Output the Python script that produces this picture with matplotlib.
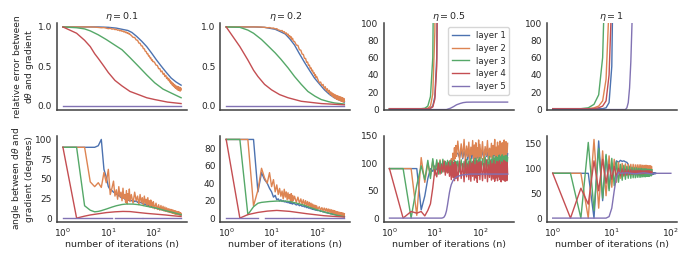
import numpy as np
import matplotlib
matplotlib.use("Agg")
import matplotlib.pyplot as plt

# iteration grid for the noisy curves: 1..30, 32..98 step 3, 104..400 step 8
n_grid = np.r_[1:31, 32:101:3, 104:401:8]
n_short = np.arange(1, 49)
n_blue_h = np.arange(1, 57)

etas = ["$\\eta = 0.1$", "$\\eta = 0.2$", "$\\eta = 0.5$", "$\\eta = 1$"]
layers = ["layer 1", "layer 2", "layer 3", "layer 4", "layer 5"]
colors = ["#4C72B0", "#DD8452", "#55A868", "#C44E52", "#8172B3"]

# ---- relative error, eta = 0.1
rel01_blue_n = [1, 3, 6, 10, 15, 20, 27, 33, 42, 54, 70, 89, 115, 147, 190, 242, 310, 400]
rel01_blue = [1.0, 1.0, 1.0, 0.995, 0.985, 0.97, 0.955, 0.93, 0.88, 0.82, 0.75, 0.67, 0.58, 0.50, 0.42, 0.35, 0.30, 0.26]
rel01_orange = [1.0, 1.0, 1.0, 1.0, 0.998, 0.994, 0.99, 0.992, 0.985, 0.978,
                0.983, 0.972, 0.976, 0.966, 0.97, 0.958, 0.962, 0.95, 0.957, 0.944,
                0.949, 0.936, 0.942, 0.928, 0.934, 0.92, 0.926, 0.912, 0.917, 0.905,
                0.892, 0.868, 0.866, 0.835, 0.83, 0.795, 0.792, 0.76, 0.758, 0.725,
                0.722, 0.69, 0.688, 0.66, 0.66, 0.63, 0.632, 0.605, 0.608, 0.58,
                0.585, 0.56, 0.562,
                0.55, 0.515, 0.51, 0.47, 0.47, 0.43, 0.44, 0.40, 0.41, 0.37,
                0.385, 0.345, 0.36, 0.325, 0.34, 0.30, 0.32, 0.28, 0.30, 0.26,
                0.285, 0.245, 0.27, 0.23, 0.26, 0.22, 0.25, 0.21, 0.245, 0.20,
                0.24, 0.195, 0.235, 0.19, 0.23, 0.185, 0.225, 0.2]
rel01_green_n = [1, 2, 3, 4, 6, 9, 13, 20, 30, 46, 70, 105, 160, 242, 400]
rel01_green = [1.0, 0.99, 0.975, 0.95, 0.9, 0.84, 0.78, 0.71, 0.61, 0.50, 0.39, 0.29, 0.21, 0.16, 0.10]
rel01_red_n = [1, 2, 3, 4, 5, 6, 8, 10, 14, 20, 30, 46, 70, 105, 200, 400]
rel01_red = [1.0, 0.92, 0.83, 0.75, 0.66, 0.60, 0.50, 0.42, 0.32, 0.25, 0.18, 0.14, 0.10, 0.077, 0.045, 0.026]
rel01_purple_n = [1, 400]
rel01_purple = [0.0, 0.0]

# ---- relative error, eta = 0.2
rel02_blue_n = [1, 4, 7, 12, 15, 20, 25, 32, 40, 53, 68, 88, 115, 146, 190, 241, 310, 400]
rel02_blue = [1.0, 1.0, 0.995, 0.97, 0.945, 0.91, 0.85, 0.77, 0.67, 0.55, 0.45, 0.35, 0.27, 0.20, 0.14, 0.10, 0.07, 0.045]
rel02_orange = [1.0, 1.0, 1.0, 1.0, 1.0, 0.998, 0.995, 0.99, 0.992, 0.984,
                0.986, 0.975, 0.978, 0.962, 0.958, 0.95, 0.955, 0.935, 0.94, 0.915,
                0.925, 0.9, 0.91, 0.88, 0.89, 0.86, 0.875, 0.84, 0.855, 0.82,
                0.815, 0.77, 0.765, 0.71, 0.705, 0.655, 0.65, 0.6, 0.6, 0.55,
                0.555, 0.51, 0.515, 0.47, 0.48, 0.44, 0.45, 0.41, 0.42, 0.38,
                0.395, 0.355, 0.37,
                0.335, 0.29, 0.3, 0.255, 0.27, 0.22, 0.24, 0.19, 0.215, 0.17,
                0.195, 0.145, 0.175, 0.13, 0.16, 0.115, 0.15, 0.1, 0.14, 0.09,
                0.13, 0.08, 0.125, 0.075, 0.12, 0.07, 0.115, 0.065, 0.11, 0.06,
                0.105, 0.055, 0.1, 0.05, 0.095, 0.045, 0.09, 0.06]
rel02_green_n = [1, 2, 3, 4, 6, 8, 12, 16, 23, 32, 45, 63, 90, 124, 180, 241, 400]
rel02_green = [1.0, 0.995, 0.96, 0.92, 0.84, 0.77, 0.67, 0.59, 0.48, 0.37, 0.27, 0.18, 0.12, 0.077, 0.05, 0.034, 0.02]
rel02_red_n = [1, 2, 3, 4, 5, 7, 10, 15, 23, 45, 124, 400]
rel02_red = [1.0, 0.75, 0.58, 0.45, 0.37, 0.27, 0.2, 0.14, 0.10, 0.055, 0.026, 0.01]
rel02_purple_n = [1, 400]
rel02_purple = [0.0, 0.0]

# ---- relative error, eta = 0.5 (blows up)
rel05_blue_n = [1, 7, 8, 9, 10, 11, 12]
rel05_blue = [1, 1, 1.5, 4, 15, 60, 300]
rel05_orange_n = [1, 6, 7, 8, 9, 10, 11]
rel05_orange = [1, 1, 1.5, 4, 18, 90, 500]
rel05_green_n = [1, 5, 6, 7, 8, 9, 10]
rel05_green = [1, 1, 1.5, 4, 15, 60, 300]
rel05_red_n = [1, 7, 8, 9, 10, 11, 12]
rel05_red = [1, 1, 1.5, 3, 12, 50, 250]
rel05_purple_n = [1, 18, 22, 26, 30, 36, 42, 50, 70, 400]
rel05_purple = [0, 0, 1.5, 3.5, 5.5, 7, 8, 8.5, 8.6, 8.6]

# ---- relative error, eta = 1
rel1_blue_n = [1, 7, 8, 9, 10, 11]
rel1_blue = [1, 1, 2, 8, 50, 250]
rel1_orange_n = [1, 4, 5, 6, 7, 8, 9]
rel1_orange = [1, 1, 2, 4, 10, 35, 120]
rel1_green_n = [1, 3, 4, 5, 6, 7, 8]
rel1_green = [1, 1, 2, 6, 17, 60, 200]
rel1_red_n = [1, 5, 6, 7, 8, 9, 10]
rel1_red = [1, 1, 2, 4, 10, 40, 130]
rel1_purple_n = [1, 17, 18, 19, 20, 21, 22, 23]
rel1_purple = [0, 0, 2, 8, 25, 55, 100, 170]

# ---- angle, eta = 0.1
ang01_blue = [90, 90, 90, 90, 90, 92, 100, 62, 52, 40,
              36, 35, 33, 32, 30, 31, 28, 29, 26, 27,
              25, 26, 24, 25.5, 23, 24.5, 22.5, 24, 22, 23.5,
              22, 23, 21, 22, 20, 21, 19.5, 20, 18.5, 19,
              17.5, 18, 16.5, 17.5, 16, 16.5, 15.5, 16, 14.5, 15.5,
              14, 15, 13.5,
              13.5, 12.5, 13, 11.5, 12, 10.8, 11.2, 10, 10.5, 9.4,
              9.9, 8.8, 9.3, 8.3, 8.8, 7.9, 8.4, 7.5, 8, 7,
              7.6, 6.6, 7.2, 6.2, 6.8, 5.8, 6.4, 5.5, 6, 5.1,
              5.7, 4.8, 5.3, 4.5, 5, 4.2, 4.7, 4]
ang01_orange = [90, 90, 90, 46, 40, 45, 39, 58, 45, 62,
                30, 38, 47, 28, 36, 24, 40, 27, 33, 22,
                38, 25, 30, 20, 35, 18, 31, 23, 37, 21,
                30, 19, 33, 22, 28, 17, 30, 20, 26, 16,
                28, 19, 24, 15, 26, 17, 22, 14, 23, 16,
                20, 13, 21,
                12, 19, 11, 17, 10, 16, 10, 15, 9, 14,
                8.5, 13, 8, 12, 7.5, 11.5, 7, 11, 6.5, 10.5,
                6, 10, 5.5, 9.5, 5, 9, 5, 8.5, 4.5, 8,
                4.5, 8, 4, 7.5, 4, 7, 3.5, 6]
ang01_green_n = [1, 2, 3, 4, 5, 6, 7, 9, 12, 15, 20, 25, 35, 48, 70, 112, 180, 262, 400]
ang01_green = [90, 90, 15.7, 10, 8, 8.5, 9.5, 11.5, 14, 15.7, 17.3, 17.9, 17.8, 17, 15, 12.8, 9.5, 7.2, 4.3]
ang01_red_n = [1, 2, 3, 4, 6, 9, 14, 21, 30, 48, 70, 112, 180, 262, 400]
ang01_red = [90, 0, 2.5, 4, 5.5, 7, 8, 8.5, 8.3, 7, 6, 5, 4, 3, 2]
ang01_purple_n = [1, 12, 13, 14, 55, 57, 59, 400]
ang01_purple = [0, 0, np.nan, 0, 0, np.nan, 0, 0]

# ---- angle, eta = 0.2
ang02_blue = [90, 90, 90, 90, 30, 52, 44, 40, 34, 30,
              24, 26, 21, 22, 19.5, 21, 19, 20, 18.5, 19.5,
              18, 19, 17.5, 18.5, 17, 18, 16.5, 17.5, 16, 17,
              16.5, 15, 15.8, 14.2, 15, 13.5, 14, 12.8, 13.3, 12,
              12.6, 11.4, 12, 10.8, 11.4, 10.3, 10.9, 9.8, 10.4, 9.4,
              10, 9, 9.5,
              8.6, 8.8, 7.6, 8, 7, 7.3, 6.3, 6.7, 5.8, 6.2,
              5.4, 5.7, 4.9, 5.3, 4.5, 4.9, 4.2, 4.6, 3.9, 4.3,
              3.6, 4, 3.3, 3.7, 3.1, 3.5, 2.9, 3.2, 2.7, 3,
              2.5, 2.8, 2.3, 2.6, 2.1, 2.4, 2, 2.2]
ang02_orange = [90, 90, 90, 14, 32, 57, 46, 40, 52, 36,
                44, 30, 38, 27, 34, 25, 31, 22, 33, 24,
                30, 21, 29, 22, 27, 20, 28, 19, 26, 20,
                25, 18, 24, 17, 22, 16, 21, 15, 20, 14,
                19, 13.5, 18, 13, 17, 12, 16, 11.5, 15, 11,
                14.5, 10.5, 14,
                10, 13, 9, 12, 8.5, 11.5, 8, 11, 7.5, 10.5,
                7, 10, 6.5, 9.5, 6, 9, 5.5, 8.5, 5, 8,
                4.5, 7.5, 4.3, 7, 4, 6.8, 3.8, 6.5, 3.5, 6.2,
                3.3, 6, 3, 5.7, 2.8, 5.5, 2.6, 5]
ang02_green_n = [1, 2, 3, 4, 5, 6, 9, 13, 18, 25, 36, 50, 72, 100, 144, 200, 287, 400]
ang02_green = [90, 90, 4, 13, 17, 18, 19, 19.5, 19.6, 19, 17, 15, 12, 9.5, 7, 5, 3, 1.5]
ang02_red_n = [1, 2, 3, 5, 8, 13, 25, 60, 144, 400]
ang02_red = [90, 0, 4, 6.5, 8, 8.8, 7.7, 5, 2.7, 1.2]
ang02_purple_n = [1, 5, 6, 7, 29, 30, 31, 400]
ang02_purple = [0, 0, np.nan, 0, 0, np.nan, 0, 0]

# ---- angle, eta = 0.5
ang05_blue = [90, 90, 90, 90, 15, 40, 72, 90, 85, 95,
              88, 96, 90, 98, 92, 99, 94, 100, 96, 102,
              100, 105, 104, 108, 109, 112, 113, 115, 116, 117,
              118, 110, 124, 108, 121, 112, 126, 106, 120, 114,
              125, 108, 119, 113, 127, 107, 122, 111, 124, 109,
              118, 115, 126,
              110, 123, 108, 125, 112, 120, 107, 126, 113, 119,
              109, 124, 114, 121, 106, 125, 111, 122, 108, 127,
              113, 118, 110, 124, 107, 121, 115, 126, 109, 120,
              112, 125, 108, 122, 114, 119, 110, 117]
ang05_orange = [90, 90, 90, 5, 110, 65, 100, 78, 104, 80,
                102, 85, 106, 82, 100, 88, 103, 84, 98, 90,
                104, 92, 108, 95, 118, 105, 128, 108, 132, 112,
                140, 106, 135, 110, 143, 104, 131, 112, 138, 102,
                129, 115, 141, 105, 133, 110, 137, 100, 128, 113,
                142, 107, 134,
                108, 139, 103, 130, 114, 141, 106, 127, 111, 136,
                101, 132, 116, 143, 105, 129, 112, 138, 104, 131,
                117, 140, 108, 126, 113, 137, 102, 133, 118, 142,
                107, 128, 115, 139, 104, 134, 120, 136]
ang05_green = [90, 90, 0, 60, 95, 70, 105, 72, 108, 78,
               106, 80, 104, 82, 107, 84, 103, 86, 105, 83,
               102, 85, 104, 82, 101, 86, 105, 83, 103, 87,
               104, 84, 106, 86, 103, 82, 107, 87, 104, 85,
               108, 83, 103, 88, 106, 84, 109, 86, 104, 89,
               107, 85, 110,
               88, 108, 86, 111, 90, 106, 87, 112, 89, 107,
               91, 113, 88, 109, 92, 112, 87, 110, 93, 114,
               89, 108, 94, 112, 90, 115, 92, 109, 95, 113,
               91, 111, 96, 114, 92, 112, 97, 110]
ang05_red = [90, 0, 12, 9, 12, 4, 14, 26, 55, 88,
             75, 100, 80, 98, 84, 104, 78, 96, 82, 101,
             76, 95, 70, 103, 74, 98, 68, 102, 72, 97,
             68, 104, 72, 99, 66, 106, 75, 98, 70, 103,
             67, 100, 76, 105, 69, 97, 73, 104, 65, 99,
             78, 102, 70,
             103, 68, 100, 72, 106, 66, 97, 74, 104, 69,
             99, 71, 105, 67, 98, 73, 103, 68, 100, 75,
             104, 70, 97, 66, 102, 72, 99, 69, 105, 74,
             98, 67, 103, 71, 100, 68, 101, 80]
ang05_purple_n = [1, 14, 15, 16, 17, 18, 19, 20, 21, 22, 23, 25, 28, 32, 40, 60, 400]
ang05_purple = [0, 0, 0.5, 2, 6, 13, 24, 36, 47, 55, 61, 68, 73, 76, 78.5, 80, 80]

# ---- angle, eta = 1
ang1_blue = [90, 90, 90, 90, 0, 155, 35, 125, 60, 110,
             100, 115, 112, 116, 114, 115, 113, 112, 108, 100,
             95, 98, 91, 96, 90, 95, 90, 94, 89, 94,
             89, 94, 89, 93, 88, 93, 88, 93, 88, 92,
             88, 92, 88, 92, 87, 92, 88, 91, 88, 91,
             88, 91, 89, 91, 89, 90]
ang1_orange = [90, 90, 90, 0, 158, 20, 135, 45, 125, 62,
               118, 72, 112, 80, 110, 84, 109, 86, 108, 87,
               108, 88, 108, 88, 107, 89, 107, 89, 107, 89,
               107, 90, 106, 90, 106, 90, 106, 90, 106, 91,
               105, 91, 105, 91, 105, 91, 104, 92]
ang1_green = [90, 90, 0, 152, 15, 140, 40, 128, 55, 120,
              65, 113, 72, 108, 76, 106, 78, 104, 80, 103,
              80, 102, 81, 101, 81, 101, 82, 100, 82, 100,
              82, 100, 83, 99, 83, 99, 83, 99, 84, 98,
              84, 98, 84, 98, 85, 97, 85, 97]
ang1_red = [90, 0, 60, 28, 115, 55, 118, 70, 108, 78,
            104, 82, 100, 85, 99, 86, 98, 87, 97, 88,
            97, 88, 96, 89, 96, 89, 96, 89, 96, 89,
            96, 89, 95, 89, 95, 90, 95, 90, 95, 90,
            95, 90, 95, 90, 94, 90, 94, 91]
ang1_purple_n = [1, 8, 9, 10, 11, 12, 13, 14, 18, 25, 35, 45, 55, 60, 100]
ang1_purple = [0, 0, 3, 20, 55, 83, 92, 90, 91, 89, 91, 89, 90, 90, 90]

rel_series = [
    [(rel01_blue_n, rel01_blue), (n_grid, rel01_orange), (rel01_green_n, rel01_green),
     (rel01_red_n, rel01_red), (rel01_purple_n, rel01_purple)],
    [(rel02_blue_n, rel02_blue), (n_grid, rel02_orange), (rel02_green_n, rel02_green),
     (rel02_red_n, rel02_red), (rel02_purple_n, rel02_purple)],
    [(rel05_blue_n, rel05_blue), (rel05_orange_n, rel05_orange), (rel05_green_n, rel05_green),
     (rel05_red_n, rel05_red), (rel05_purple_n, rel05_purple)],
    [(rel1_blue_n, rel1_blue), (rel1_orange_n, rel1_orange), (rel1_green_n, rel1_green),
     (rel1_red_n, rel1_red), (rel1_purple_n, rel1_purple)],
]
ang_series = [
    [(n_grid, ang01_blue), (n_grid, ang01_orange), (ang01_green_n, ang01_green),
     (ang01_red_n, ang01_red), (ang01_purple_n, ang01_purple)],
    [(n_grid, ang02_blue), (n_grid, ang02_orange), (ang02_green_n, ang02_green),
     (ang02_red_n, ang02_red), (ang02_purple_n, ang02_purple)],
    [(n_grid, ang05_blue), (n_grid, ang05_orange), (n_grid, ang05_green),
     (n_grid, ang05_red), (ang05_purple_n, ang05_purple)],
    [(n_blue_h, ang1_blue), (n_short, ang1_orange), (n_short, ang1_green),
     (n_short, ang1_red), (ang1_purple_n, ang1_purple)],
]

rel_ticks = [[0, 0.5, 1.0], [0, 0.5, 1.0], [0, 20, 40, 60, 80, 100], [0, 20, 40, 60, 80, 100]]
ang_ticks = [[0, 25, 50, 75, 100], [0, 20, 40, 60, 80], [0, 50, 100, 150], [0, 50, 100, 150]]

plt.rcParams.update({
    "font.family": "DejaVu Sans",
    "mathtext.fontset": "dejavusans",
    "font.size": 6.8,
    "axes.edgecolor": "0.25",
    "axes.linewidth": 1.1,
    "text.color": "0.15",
    "axes.labelcolor": "0.15",
    "xtick.color": "0.15",
    "ytick.color": "0.15",
    "xtick.labelsize": 6.5,
    "ytick.labelsize": 6.5,
    "xtick.major.size": 0,
    "ytick.major.size": 0,
    "xtick.minor.size": 0,
    "ytick.minor.size": 0,
    "xtick.major.pad": 3,
    "ytick.major.pad": 3.5,
    "legend.fontsize": 6.2,
})

fig, axes = plt.subplots(2, 4, figsize=(6.92, 2.6), dpi=100, sharex="col")
fig.subplots_adjust(left=0.0824, right=0.978, bottom=0.146, top=0.9115, wspace=0.256, hspace=0.3)


def draw(ax, series):
    lines = []
    for (n, y), c, lab in zip(series, colors, layers):
        m = min(len(n), len(y))
        ln, = ax.plot(n[:m], y[:m], color=c, lw=1.0, label=lab)
        lines.append(ln)
    ax.set_xscale("log")
    ax.spines["top"].set_visible(False)
    ax.spines["right"].set_visible(False)
    return lines


for j in range(4):
    top, bot = axes[0, j], axes[1, j]
    handles = draw(top, rel_series[j])
    draw(bot, ang_series[j])
    top.set_title(etas[j], pad=2, fontsize=6.8)
    top.set_yticks(rel_ticks[j])
    bot.set_yticks(ang_ticks[j])
    if j >= 2:
        top.set_ylim(0, 100)
    bot.set_xlabel("number of iterations (n)", labelpad=1)
    if j == 2:
        top.legend(handles=handles, loc="upper right", frameon=True, edgecolor="0.8",
                   borderpad=0.4, labelspacing=0.45, handlelength=2.0)

axes[0, 0].set_ylabel("relative error between\nd$\\theta$ and gradient", labelpad=1, fontsize=6.6)
axes[1, 0].set_ylabel("angle between d$\\theta$ and\ngradient (degrees)", labelpad=1, fontsize=6.6)

fig.savefig("out.png", dpi=100)
